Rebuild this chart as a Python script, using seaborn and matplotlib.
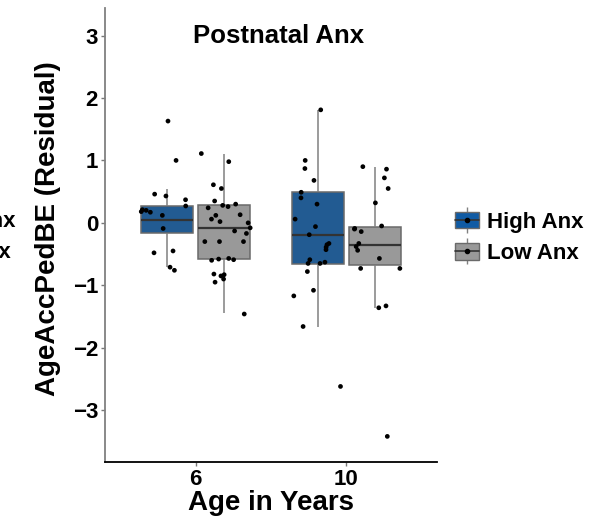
import numpy as np
import pandas as pd
import seaborn as sns
import matplotlib
matplotlib.use("Agg")
import matplotlib.pyplot as plt
from matplotlib.patches import Patch
from matplotlib.lines import Line2D
from matplotlib.legend_handler import HandlerTuple

# categories
ages = ["6", "10"]
groups = ["High Anx", "Low Anx"]

# box summaries (order: High 6, Low 6, High 10, Low 10)
box_age = ["6", "6", "10", "10"]
box_group = ["High Anx", "Low Anx", "High Anx", "Low Anx"]
box_lo = [-0.70, -1.45, -1.66, -1.36]
box_q1 = [-0.16, -0.58, -0.66, -0.67]
box_med = [0.04, -0.08, -0.19, -0.36]
box_q3 = [0.27, 0.29, 0.49, -0.06]
box_hi = [0.54, 1.10, 1.80, 0.90]

# individual residuals
high6 = [1.63, 1.00, 0.46, 0.43, 0.37, 0.27, 0.20, 0.17, 0.21, 0.12, 0.18,
         -0.09, -0.45, -0.48, -0.76, -0.71]
low6 = [1.11, 0.98, 0.61, 0.55, 0.35, 0.30, 0.28, 0.24, 0.26, 0.13, 0.12, 0.06,
        0.02, 0.00, -0.08, -0.13, -0.17, -0.30, -0.30, -0.30, -0.59, -0.57,
        -0.58, -0.60, -0.85, -0.83, -0.82, -0.95, -0.90, -1.46]
high10 = [1.81, 1.00, 0.87, 0.68, 0.49, 0.40, 0.30, 0.06, -0.06, -0.19, -0.35,
          -0.33, -0.39, -0.43, -0.59, -0.63, -0.65, -0.65, -0.78, -1.08, -1.17,
          -1.66, -2.62]
low10 = [0.90, 0.86, 0.72, 0.55, 0.32, -0.05, -0.10, -0.09, -0.14, -0.33, -0.38,
         -0.44, -0.57, -0.73, -0.73, -1.33, -1.36, -3.42]

blue = "#105ba4"
grey = "#999999"

# long tables
rows = []
for i in range(len(box_age)):
    for v in (box_lo[i], box_q1[i], box_med[i], box_q3[i], box_hi[i]):
        rows.append((box_age[i], box_group[i], v))
df_box = pd.DataFrame(rows, columns=["age", "group", "resid"])

pts = []
for age, grp, vals in [("6", "High Anx", high6), ("6", "Low Anx", low6),
                       ("10", "High Anx", high10), ("10", "Low Anx", low10)]:
    for v in vals:
        pts.append((age, grp, v))
df_pts = pd.DataFrame(pts, columns=["age", "group", "resid"])

sns.set_style("white")
plt.rcParams["font.family"] = ["Liberation Sans", "DejaVu Sans"]
plt.rcParams["font.weight"] = "bold"
plt.rcParams["text.color"] = "black"
plt.rcParams["axes.labelcolor"] = "black"

fig = plt.figure(figsize=(6.07, 5.17), dpi=100)
ax = fig.add_axes([0.173, 0.1064, 0.547, 0.878])

sns.boxplot(data=df_box, x="age", y="resid", hue="group", order=ages,
            hue_order=groups, palette=[blue, grey], width=0.75, gap=0.08,
            whis=(0, 100), showfliers=False, linecolor="#6a6a6a", linewidth=1.1,
            medianprops={"color": "#333333", "linewidth": 1.6},
            whiskerprops={"color": "#808080"}, capprops={"linewidth": 0},
            legend=False, ax=ax)

np.random.seed(3)
sns.stripplot(data=df_pts, x="age", y="resid", hue="group", order=ages,
              hue_order=groups, palette=["black", "black"], dodge=True,
              jitter=0.34, size=3.4, linewidth=0, legend=False, ax=ax, zorder=5)

ax.set_xlim(-0.6, 1.6)
ax.set_ylim(-3.83, 3.44)
ax.set_yticks([-3, -2, -1, 0, 1, 2, 3])
ax.set_yticklabels(["\u22123", "\u22122", "\u22121", "0", "1", "2", "3"])
ax.tick_params(axis="both", labelsize=16, length=3, width=1, color="#777777",
               labelcolor="black", pad=2, left=True, bottom=True)
for lab in ax.get_xticklabels() + ax.get_yticklabels():
    lab.set_fontweight("bold")

for s in ["top", "right"]:
    ax.spines[s].set_visible(False)
ax.spines["left"].set_color("#808080")
ax.spines["left"].set_linewidth(1.3)
ax.spines["bottom"].set_color("black")
ax.spines["bottom"].set_linewidth(1.3)

ax.set_xlabel("Age in Years", fontsize=20, fontweight="bold", labelpad=0)
ax.set_ylabel("AgeAccPedBE (Residual)", fontsize=20, fontweight="bold")
ax.yaxis.set_label_coords(-0.133, 0.515)
ax.text(0.55, 3.0, "Postnatal Anx", fontsize=18.5, fontweight="bold",
        ha="center", va="center")

# legend keys: whisker, box, median with dot
handles = []
for c in [blue, grey]:
    whisk = Line2D([], [], color="#808080", marker="|", markersize=19,
                   markeredgewidth=1, linestyle="none")
    box = Patch(facecolor=c, edgecolor="#6a6a6a", linewidth=1)
    med = Line2D([], [], color="#333333", linewidth=1.2, marker="o",
                 markersize=3, markerfacecolor="black", markeredgecolor="black")
    handles.append((whisk, box, med))
fig.legend(handles, groups, handler_map={tuple: HandlerTuple(ndivide=1)},
           loc="center left", bbox_to_anchor=(455 / 607, 1 - 238 / 517),
           frameon=False, prop={"size": 16, "weight": "bold"},
           handlelength=1.1, handleheight=0.75, handletextpad=0.32,
           labelspacing=0.46, borderpad=0, borderaxespad=0)

# neighbouring panel's legend labels, cut at the figure edge as in the source
fig.text(-81 / 607, 1 - 222 / 517, "High Anx", fontsize=16, fontweight="bold",
         ha="left", va="center")
fig.text(-81 / 607, 1 - 253 / 517, "Low Anx", fontsize=16, fontweight="bold",
         ha="left", va="center")

fig.savefig("out.png", dpi=100)
